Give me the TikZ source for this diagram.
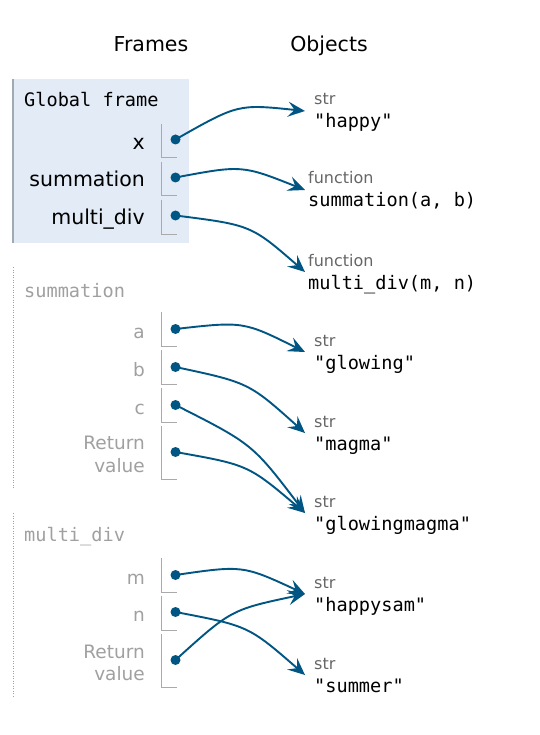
\documentclass[tikz,border=0pt]{standalone}
\usepackage{fontspec}
\setmainfont{DejaVu Sans}
\newfontfamily\monof{DejaVu Sans Mono}
\usetikzlibrary{arrows.meta,calc}
\definecolor{linkc}{HTML}{005583}
\definecolor{gfill}{HTML}{E2EBF6}
\definecolor{gborder}{HTML}{A0AAB4}
\definecolor{cellc}{HTML}{AAAAAA}
\definecolor{lgray}{HTML}{A0A0A0}
\definecolor{tgray}{HTML}{666666}
\tikzset{
  hdr/.style={font=\fontsize{20.5}{24}\selectfont, anchor=base, inner sep=0pt},
  gvar/.style={font=\fontsize{20.5}{24}\selectfont, anchor=base east, inner sep=0pt},
  lvar/.style={font=\fontsize{18.5}{22}\selectfont, text=lgray, anchor=base east, inner sep=0pt},
  fname/.style={font=\monof\fontsize{18.6}{22}\selectfont, anchor=base west, inner sep=0pt},
  lfname/.style={fname, text=lgray},
  typel/.style={font=\fontsize{16}{19}\selectfont, text=tgray, anchor=base west, inner sep=0pt},
  vall/.style={font=\monof\fontsize{18.6}{22}\selectfont, anchor=base west, inner sep=0pt},
  dotn/.style={circle, fill=linkc, inner sep=0pt, minimum size=10pt},
  cell/.style={draw=cellc, line width=1pt},
  conn/.style={draw=linkc, line width=1.9pt, -{Stealth[length=17pt,width=15pt,inset=6.5pt]}},
  gframe/.style={fill=gfill},
  frameline/.style={draw=gborder, line width=1.5pt},
  dotline/.style={draw=lgray, line width=1pt, dash pattern=on 1pt off 1.5pt},
}
\newcommand\mylink[3]{\draw[conn] (#1.center) .. controls (#2) .. (#3);}
\begin{document}
\begin{tikzpicture}[x=1pt,y=-1pt]
\useasboundingbox (0,0) rectangle (539,735);

% headers
\node[hdr] (hframes) at (151,52) {Frames};
\node[hdr] (hobjects) at (329,52) {Objects};

% global frame
\fill[gframe] (13,79) rectangle (189,243);
\draw[frameline] (13,79) -- (13,243);
\node[fname] (gtitle) at (24,107) {Global frame};
\node[gvar] (lx) at (145,150) {x};
\node[gvar] (lsum) at (145,187) {summation};
\node[gvar] (lmd) at (145,225) {multi\_div};
\draw[cell] (161.5,124) |- (177,158);
\draw[cell] (161.5,162) |- (177,196);
\draw[cell] (161.5,200) |- (177,234);
\node[dotn] (gx) at (175.5,139.5) {};
\node[dotn] (gs) at (175.5,177.5) {};
\node[dotn] (gm) at (175.5,215.5) {};

% summation frame
\draw[dotline] (13,267) -- (13,489);
\node[lfname] (stitle) at (24,297) {summation};
\node[lvar] (la) at (145,338) {a};
\node[lvar] (lb) at (145,376) {b};
\node[lvar] (lc) at (145,414) {c};
\node[lvar] (lr1a) at (145,449) {Return};
\node[lvar] (lr1b) at (145,472) {value};
\draw[cell] (161.5,312) |- (177,346);
\draw[cell] (161.5,350) |- (177,384);
\draw[cell] (161.5,388) |- (177,422);
\draw[cell] (161.5,426) |- (177,479);
\node[dotn] (sa) at (175.5,329) {};
\node[dotn] (sb) at (175.5,367) {};
\node[dotn] (sc) at (175.5,405) {};
\node[dotn] (sr) at (175.5,452) {};

% multi_div frame
\draw[dotline] (13,513) -- (13,697);
\node[lfname] (mtitle) at (24,541) {multi\_div};
\node[lvar] (lm) at (145,584) {m};
\node[lvar] (ln) at (145,621) {n};
\node[lvar] (lr2a) at (145,658) {Return};
\node[lvar] (lr2b) at (145,680) {value};
\draw[cell] (161.5,558) |- (177,592);
\draw[cell] (161.5,596) |- (177,630);
\draw[cell] (161.5,634) |- (177,687);
\node[dotn] (mm) at (175.5,575) {};
\node[dotn] (mn) at (175.5,612) {};
\node[dotn] (mr) at (175.5,660) {};

% objects
\node[typel] (t1) at (314,105) {str};
\node[vall] (v1) at (314,128) {"happy"};
\node[typel] (t2) at (308,184) {function};
\node[vall] (v2) at (308,207) {summation(a, b)};
\node[typel] (t3) at (308,266) {function};
\node[vall] (v3) at (308,289) {multi\_div(m, n)};
\node[typel] (t4) at (314,346) {str};
\node[vall] (v4) at (314,369) {"glowing"};
\node[typel] (t5) at (314,427) {str};
\node[vall] (v5) at (314,450) {"magma"};
\node[typel] (t6) at (314,507) {str};
\node[vall] (v6) at (314,530) {"glowingmagma"};
\node[typel] (t7) at (314,588) {str};
\node[vall] (v7) at (314,611) {"happysam"};
\node[typel] (t8) at (314,669) {str};
\node[vall] (v8) at (314,692) {"summer"};

% arrow tips
\coordinate (p1) at (305,111);
\coordinate (p2) at (305,190);
\coordinate (p3) at (305,272);
\coordinate (p4) at (305,352);
\coordinate (p5) at (305,433);
\coordinate (p6) at (305,513);
\coordinate (p7) at (305,594);
\coordinate (p8) at (305,675);

% control points
\coordinate (c1) at (238,104);
\coordinate (c2) at (242,165);
\coordinate (c3) at (251,225);
\coordinate (c4) at (243.4,321.3);
\coordinate (c5) at (248.8,382.6);
\coordinate (c6) at (252.5,444);
\coordinate (c7) at (248.3,464.9);
\coordinate (c8) at (242.8,565.2);
\coordinate (c9) at (248.5,625.9);
\coordinate (c10) at (231.2,609.6);

\mylink{gx}{c1}{p1}
\mylink{gs}{c2}{p2}
\mylink{gm}{c3}{p3}
\mylink{sa}{c4}{p4}
\mylink{sb}{c5}{p5}
\mylink{sc}{c6}{p6}
\mylink{sr}{c7}{p6}
\mylink{mm}{c8}{p7}
\mylink{mn}{c9}{p8}
\mylink{mr}{c10}{p7}
\end{tikzpicture}
\end{document}
